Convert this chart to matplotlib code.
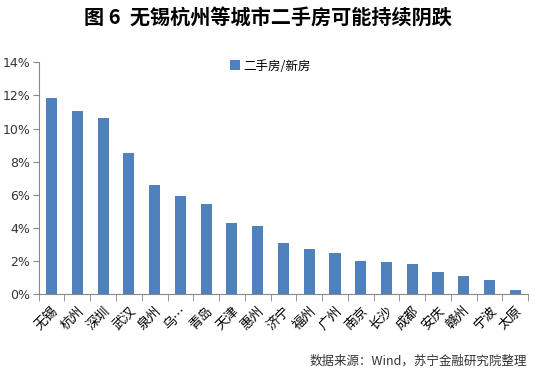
import matplotlib.pyplot as plt
import numpy as np

plt.rcParams['font.family'] = ['Noto Sans CJK SC', 'DejaVu Sans']

cities = ['无锡', '杭州', '深圳', '武汉', '泉州', '乌…', '青岛', '天津', '惠州', '济宁',
          '福州', '广州', '南京', '长沙', '成都', '安庆', '赣州', '宁波', '太原']
ratio = [11.83, 11.06, 10.62, 8.51, 6.60, 5.93, 5.45, 4.30, 4.12, 3.11,
         2.73, 2.49, 2.01, 1.95, 1.83, 1.35, 1.10, 0.86, 0.26]
yticks = [0, 2, 4, 6, 8, 10, 12, 14]

fig = plt.figure(figsize=(5.35, 3.75), dpi=100)
ax = fig.add_axes([0.0723, 0.215, 0.915, 0.619])

x = np.arange(len(cities))
ax.bar(x, ratio, width=0.43, color='#4F81BD', label='二手房/新房', zorder=3)

ax.set_xlim(-0.5, len(cities) - 0.5)
ax.set_ylim(0, 14)
ax.set_yticks(yticks)
ax.set_yticklabels([f'{v}%' for v in yticks], fontsize=9, color='#333333',
                   family=['DejaVu Sans'])
ax.set_xticks(x)
ax.set_xticklabels(cities, rotation=45, ha='right', rotation_mode='anchor', fontsize=9.5)
ax.tick_params(axis='x', length=0, pad=7)
ax.set_xticks(np.arange(-0.5, len(cities)), minor=True)
ax.tick_params(axis='x', which='minor', length=5, color='#888888')
ax.tick_params(axis='y', length=4, color='#888888', pad=2)

for side in ('top', 'right'):
    ax.spines[side].set_visible(False)
for side in ('left', 'bottom'):
    ax.spines[side].set_color('#888888')

ax.legend(loc='upper center', bbox_to_anchor=(0.473, 1.06), frameon=False, fontsize=9,
          handlelength=0.8, handleheight=0.8, handletextpad=0.3)

fig.text(0.5, 0.952, '图 6  无锡杭州等城市二手房可能持续阴跌', ha='center', va='center',
         fontsize=14.5, fontweight='bold')
fig.text(0.985, 0.038, '数据来源：Wind，苏宁金融研究院整理', ha='right', va='center',
         fontsize=9, style='italic', color='#333333')

fig.savefig('out.png', dpi=100)
